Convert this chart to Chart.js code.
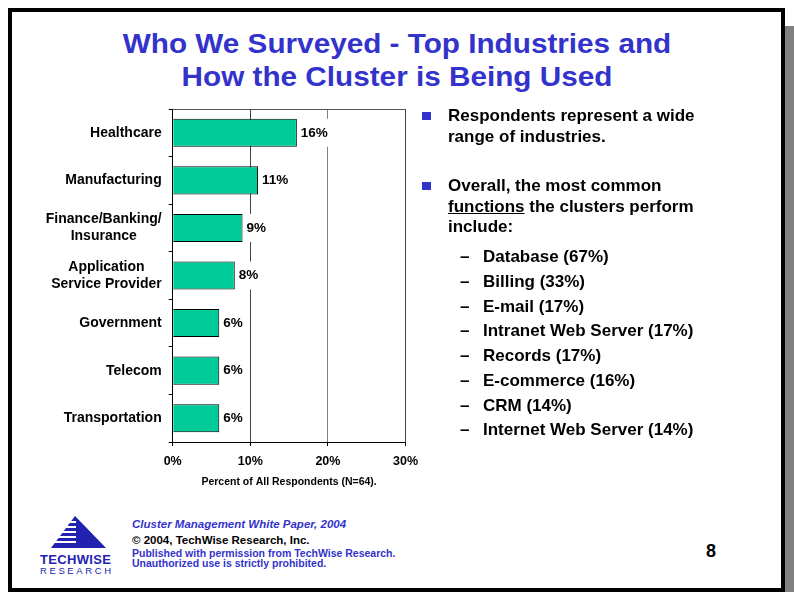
<!DOCTYPE html>
<html>
<head>
<meta charset="utf-8">
<script src="https://cdn.jsdelivr.net/npm/chart.js@4.4.1/dist/chart.umd.min.js"></script>
<style>
  body { margin: 0; width: 794px; height: 592px; position: relative; background: #fff; overflow: hidden;
         font-family: "Liberation Sans", Arial, sans-serif; }
  #frame { position: absolute; left: 8px; top: 8px; width: 777px; height: 584px; border: 4px solid #000; box-sizing: border-box; }
  #shadow { position: absolute; left: 785px; top: 26px; width: 9px; height: 566px; background: #808080; }
  .title { position: absolute; left: 0; width: 794px; text-align: center; color: #3333cc; font-weight: bold;
           font-size: 27.5px; line-height: 30px; transform: scaleX(1.08); white-space: nowrap; }
  .r { position: absolute; font-size: 17px; font-weight: bold; line-height: 20px; white-space: nowrap; color: #000; }
  .sq { position: absolute; width: 9px; height: 8px; background: #3333cc; }
  .f { position: absolute; left: 132px; font-weight: bold; white-space: nowrap; line-height: 14px; }
  #c { position: absolute; left: 20px; top: 100px; }
</style>
</head>
<body>
<div id="frame"></div>
<div id="shadow"></div>

<div class="title" style="top:29px">Who We Surveyed - Top Industries and</div>
<div class="title" style="top:62px">How the Cluster is Being Used</div>

<canvas id="c" width="406" height="400"></canvas>

<div id="notes"></div>

<svg style="position:absolute;left:30px;top:505px" width="100" height="80">
  <polygon points="45,11 21,43 76,43" fill="#2222b0"/>
  <rect x="0" y="16" width="46" height="2" fill="#fff"/>
  <rect x="0" y="21" width="46" height="2" fill="#fff"/>
  <rect x="0" y="26" width="46" height="2" fill="#fff"/>
  <rect x="0" y="31" width="46" height="2" fill="#fff"/>
  <rect x="0" y="36" width="46" height="2" fill="#fff"/>
  <text x="10" y="59" font-family="Liberation Sans, Arial" font-weight="bold" font-size="13" fill="#2222b0"
        textLength="71" lengthAdjust="spacing">TECHWISE</text>
  <text x="10" y="68.5" font-family="Liberation Sans, Arial" font-size="9.5" fill="#2222b0"
        textLength="71" lengthAdjust="spacing">RESEARCH</text>
</svg>

<div class="f" style="top:517px;font-size:11.5px;font-style:italic;color:#3333cc">Cluster Management White Paper, 2004</div>
<div class="f" style="top:533px;font-size:11.5px;color:#000">© 2004, TechWise Research, Inc.</div>
<div class="f" style="top:546px;font-size:10.5px;color:#3333cc">Published with permission from TechWise Research.</div>
<div class="f" style="top:556px;font-size:10.5px;color:#3333cc">Unauthorized use is strictly prohibited.</div>
<div class="r" style="left:706px;top:541px;font-size:18px">8</div>

<script>
// chart data
const industries = [
  ["Healthcare"],
  ["Manufacturing"],
  ["Finance/Banking/", "Insurance"],
  ["Application", "Service Provider"],
  ["Government"],
  ["Telecom"],
  ["Transportation"]
];
const shares = [16, 11, 9, 8, 6, 6, 6];
const xTicks = [0, 10, 20, 30];

// right hand bullet text
const functionsUsed = [
  "Database (67%)", "Billing (33%)", "E-mail (17%)", "Intranet Web Server (17%)",
  "Records (17%)", "E-commerce (16%)", "CRM (14%)", "Internet Web Server (14%)"
];

const FONT = "'Liberation Sans', Arial, sans-serif";

// notes block
const notes = document.getElementById("notes");
let html = "";
html += '<div class="sq" style="left:422px;top:112px"></div>';
html += '<div class="r" style="left:448px;top:106px">Respondents represent a wide</div>';
html += '<div class="r" style="left:448px;top:127px">range of industries.</div>';
html += '<div class="sq" style="left:422px;top:182px"></div>';
html += '<div class="r" style="left:448px;top:176px">Overall, the most common</div>';
html += '<div class="r" style="left:448px;top:197px"><u>functions</u> the clusters perform</div>';
html += '<div class="r" style="left:448px;top:217px">include:</div>';
functionsUsed.forEach((t, i) => {
  const top = 247 + i * 24.75;
  html += `<div class="r" style="left:460px;top:${top}px">–</div>`;
  html += `<div class="r" style="left:483px;top:${top}px">${t}</div>`;
});
notes.innerHTML = html;

const plotBox = {
  id: "plotBox",
  afterDraw(chart) {
    const { ctx, chartArea: a } = chart;
    ctx.save();
    ctx.strokeStyle = "#555";
    ctx.lineWidth = 1;
    ctx.beginPath();
    ctx.moveTo(a.left, a.top + 0.5);
    ctx.lineTo(a.right, a.top + 0.5);
    ctx.stroke();
    ctx.restore();
  }
};

const valueLabels = {
  id: "valueLabels",
  afterDatasetsDraw(chart) {
    const { ctx } = chart;
    const meta = chart.getDatasetMeta(0);
    ctx.save();
    ctx.font = "bold 13.5px " + FONT;
    ctx.textBaseline = "middle";
    meta.data.forEach((bar, i) => {
      const txt = shares[i] + "%";
      const w = ctx.measureText(txt).width;
      ctx.fillStyle = "#fff";
      ctx.fillRect(bar.x + 2, bar.y - 14, w + 4, 28);
      ctx.fillStyle = "#000";
      ctx.fillText(txt, bar.x + 4, bar.y);
    });
    ctx.restore();
  }
};

const catLabels = {
  id: "catLabels",
  afterDraw(chart) {
    const { ctx } = chart;
    const y = chart.scales.y;
    const right = y.right - 4 - 7;
    ctx.save();
    ctx.font = "bold 14px " + FONT;
    ctx.fillStyle = "#000";
    ctx.textAlign = "center";
    ctx.textBaseline = "middle";
    industries.forEach((lines, i) => {
      const cy = y.getPixelForValue(i);
      const maxW = Math.max(...lines.map(l => ctx.measureText(l).width));
      const cx = right - maxW / 2;
      lines.forEach((l, j) => {
        ctx.fillText(l, cx, cy + (j - (lines.length - 1) / 2) * 17);
      });
    });
    ctx.restore();
  }
};

new Chart(document.getElementById("c"), {
  type: "bar",
  data: {
    labels: industries,
    datasets: [{
      data: shares,
      backgroundColor: "#00cc99",
      borderColor: "#000",
      borderWidth: 1,
      barPercentage: 0.59,
      categoryPercentage: 1
    }]
  },
  options: {
    indexAxis: "y",
    responsive: false,
    animation: false,
    devicePixelRatio: 1,
    layout: { padding: { top: 9, right: 9, left: 0, bottom: 0 } },
    plugins: { legend: { display: false }, tooltip: { enabled: false } },
    scales: {
      x: {
        min: 0,
        max: 30,
        afterBuildTicks: s => { s.ticks = xTicks.map(v => ({ value: v })); },
        ticks: {
          callback: v => v + "%",
          color: "#000",
          padding: 8,
          maxRotation: 0,
          font: { family: FONT, size: 12.5, weight: "bold" }
        },
        grid: {
          color: c => (c.tick && c.tick.value === 20 ? "#808080" : "#444"),
          tickLength: 4,
          tickColor: "#000"
        },
        border: { color: "#000" },
        title: {
          display: true,
          text: "Percent of All Respondents (N=64).",
          color: "#000",
          font: { family: FONT, size: 10.5, weight: "bold" },
          padding: { top: 0, bottom: 12 }
        },
        afterFit: s => { s.height = 58; }
      },
      y: {
        ticks: { display: false },
        grid: { drawOnChartArea: false, offset: true, tickLength: 4, tickColor: "#000" },
        border: { color: "#000" },
        afterFit: s => { s.width = 152.7; }
      }
    }
  },
  plugins: [plotBox, valueLabels, catLabels]
});
</script>
</body>
</html>
